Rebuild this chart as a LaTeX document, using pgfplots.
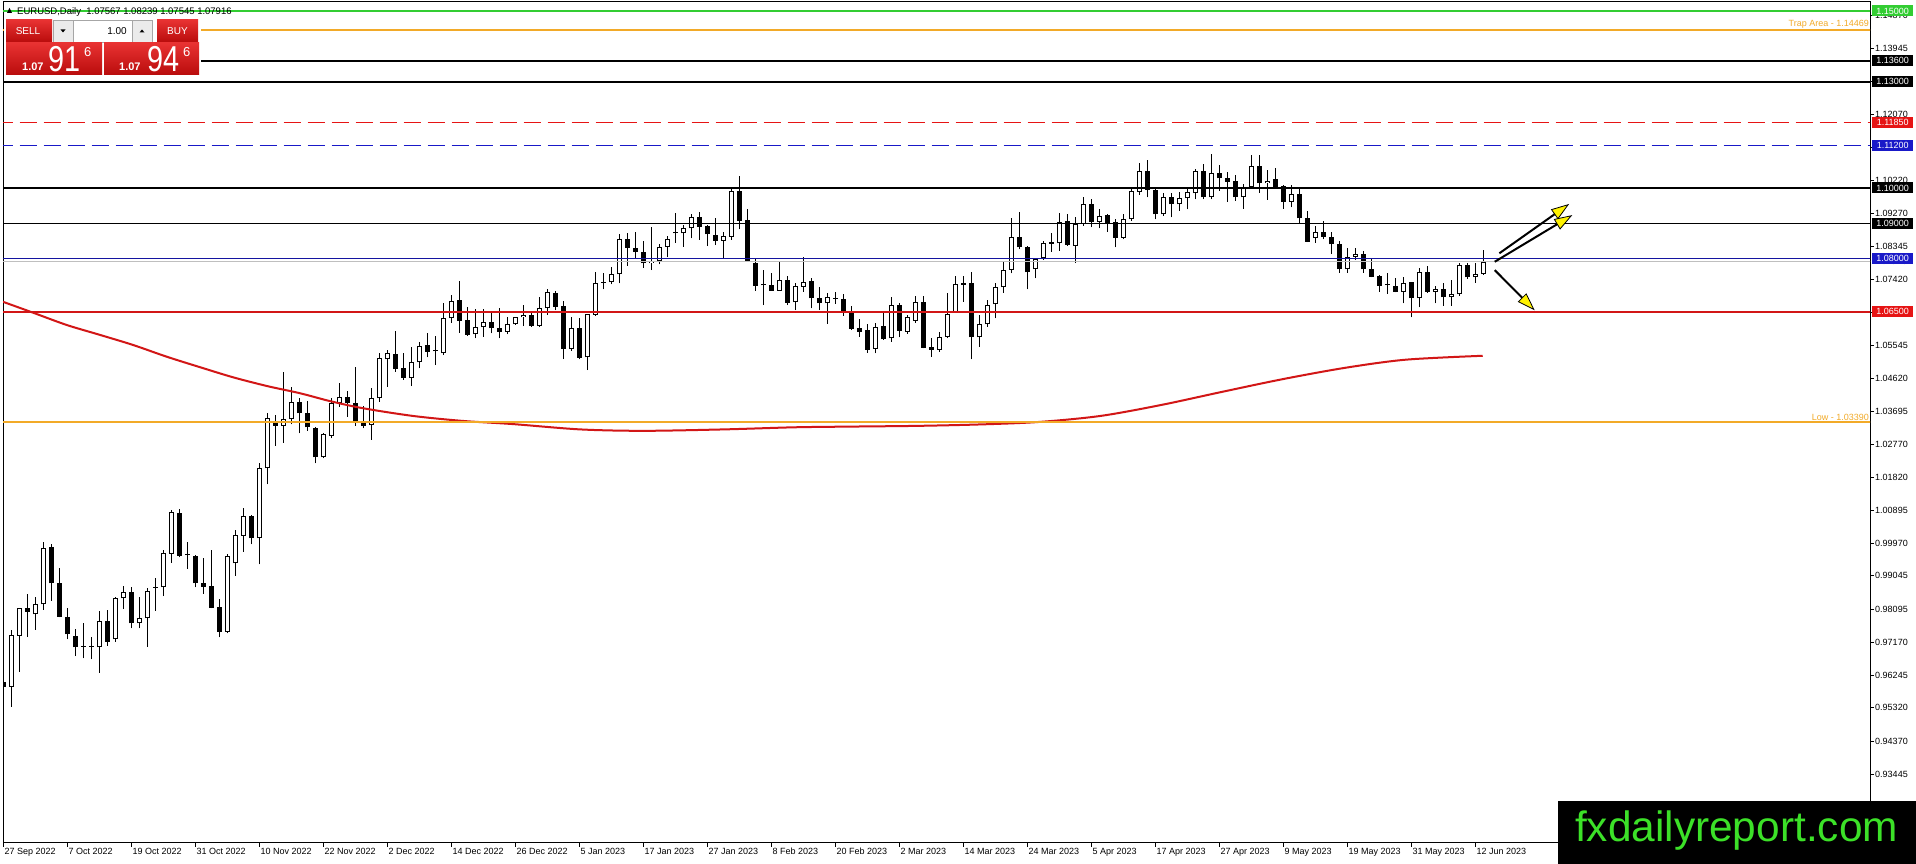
\documentclass[border=0pt]{standalone}
\usepackage{fontspec}
\setmainfont{Liberation Sans}
\usepackage{pgfplots}
\usepackage{pgfplotstable}
\pgfplotsset{compat=1.18}
\usetikzlibrary{arrows.meta}
\definecolor{mtgreen}{RGB}{50,205,50}
\definecolor{mtorange}{RGB}{242,170,40}
\definecolor{mtred}{RGB}{230,20,20}
\definecolor{lvred}{RGB}{210,22,22}
\definecolor{mtblue}{RGB}{25,25,200}
\definecolor{btnredA}{RGB}{232,50,50}
\definecolor{btnredB}{RGB}{185,12,12}
\definecolor{fxgreen}{RGB}{60,225,40}

\pgfplotstableread{
i o h l c
0 0.96054 0.96714 0.95678 0.95913
1 0.95913 0.97514 0.95348 0.97373
2 0.97354 0.98140 0.96337 0.98126
3 0.98126 0.98531 0.97326 0.98032
4 0.97956 0.98437 0.97514 0.98239
5 0.98239 0.99990 0.98079 0.99821
6 0.99849 0.99943 0.98342 0.98832
7 0.98832 0.99256 0.97872 0.97891
8 0.97891 0.98145 0.97250 0.97391
9 0.97354 0.97533 0.96779 0.97024
10 0.97040 0.97721 0.96714 0.97050
11 0.97043 0.97326 0.96685 0.97035
12 0.97024 0.98060 0.96309 0.97768
13 0.97768 0.98079 0.97071 0.97184
14 0.97250 0.98437 0.97184 0.98408
15 0.98408 0.98757 0.98107 0.98578
16 0.98578 0.98719 0.97561 0.97702
17 0.97702 0.98437 0.97561 0.97843
18 0.97843 0.98691 0.97043 0.98616
19 0.98710 0.98973 0.98060 0.98725
20 0.98719 0.99774 0.98474 0.99680
21 0.99661 1.00904 0.99416 1.00838
22 1.00810 1.00923 0.99567 0.99614
23 0.99642 0.99990 0.99237 0.99630
24 0.99614 0.99630 0.98719 0.98832
25 0.98851 0.99538 0.98531 0.98738
26 0.98757 0.99774 0.98126 0.98145
27 0.98154 0.98390 0.97307 0.97467
28 0.97467 0.99661 0.97420 0.99604
29 0.99397 1.00339 0.99049 1.00198
30 1.00179 1.00951 0.99727 1.00734
31 1.00734 1.00763 0.99934 1.00104
32 1.00104 1.02222 0.99369 1.02081
33 1.02081 1.03634 1.01629 1.03512
34 1.03371 1.03587 1.02721 1.03277
35 1.03276 1.04811 1.02805 1.03465
36 1.03465 1.04387 1.03323 1.03945
37 1.03945 1.04077 1.03069 1.03634
38 1.03634 1.03983 1.03144 1.03239
39 1.03220 1.03240 1.02222 1.02391
40 1.02391 1.03088 1.02363 1.03050
41 1.03003 1.04058 1.02928 1.03935
42 1.03935 1.04481 1.03822 1.04105
43 1.04105 1.04274 1.03540 1.03935
44 1.03917 1.04952 1.03286 1.03427
45 1.03370 1.03841 1.03210 1.03286
46 1.03304 1.04340 1.02881 1.04058
47 1.04058 1.05329 1.03964 1.05188
48 1.05160 1.05423 1.04387 1.05329
49 1.05301 1.05960 1.04811 1.04886
50 1.04905 1.05329 1.04576 1.04642
51 1.04642 1.05517 1.04406 1.05075
52 1.05075 1.05659 1.04905 1.05536
53 1.05555 1.05913 1.05216 1.05376
54 1.05385 1.05819 1.04999 1.05400
55 1.05329 1.06741 1.05282 1.06318
56 1.06318 1.06977 1.06195 1.06817
57 1.06836 1.07372 1.05913 1.06252
58 1.06271 1.06628 1.05819 1.05847
59 1.05866 1.06572 1.05753 1.06063
60 1.06063 1.06572 1.05800 1.06224
61 1.06224 1.06478 1.05894 1.06035
62 1.06035 1.06600 1.05753 1.05941
63 1.05941 1.06365 1.05866 1.06158
64 1.06148 1.06365 1.06130 1.06346
65 1.06346 1.06694 1.06101 1.06412
66 1.06412 1.06506 1.06082 1.06101
67 1.06101 1.06911 1.06082 1.06600
68 1.06600 1.07137 1.06412 1.07052
69 1.07024 1.07099 1.06553 1.06647
70 1.06666 1.06817 1.05169 1.05451
71 1.05451 1.06365 1.05404 1.06035
72 1.06035 1.06318 1.05160 1.05207
73 1.05216 1.06450 1.04858 1.06440
74 1.06412 1.07617 1.06393 1.07306
75 1.07320 1.07589 1.07137 1.07335
76 1.07335 1.07758 1.07278 1.07561
77 1.07561 1.08700 1.07306 1.08549
78 1.08549 1.08719 1.07806 1.08314
79 1.08314 1.08747 1.08013 1.08201
80 1.08201 1.08512 1.07750 1.07871
81 1.07871 1.08888 1.07683 1.07937
82 1.07937 1.08418 1.07843 1.08342
83 1.08342 1.08644 1.08041 1.08549
84 1.08720 1.09284 1.08455 1.08735
85 1.08719 1.08955 1.08342 1.08860
86 1.08860 1.09265 1.08578 1.09171
87 1.09171 1.09321 1.08531 1.08907
88 1.08926 1.08955 1.08361 1.08691
89 1.08672 1.09143 1.08389 1.08512
90 1.08512 1.08766 1.08013 1.08644
91 1.08625 1.09990 1.08531 1.09915
92 1.09915 1.10338 1.08832 1.09077
93 1.09096 1.09397 1.07919 1.07947
94 1.07871 1.08013 1.07099 1.07240
95 1.07250 1.07683 1.06694 1.07260
96 1.07259 1.07608 1.07090 1.07099
97 1.07099 1.07937 1.07090 1.07401
98 1.07401 1.07514 1.06694 1.06761
99 1.06770 1.07306 1.06553 1.07231
100 1.07212 1.08041 1.07071 1.07353
101 1.07372 1.07448 1.06600 1.06883
102 1.06883 1.07212 1.06553 1.06742
103 1.06742 1.07024 1.06158 1.06930
104 1.06883 1.07052 1.06723 1.06870
105 1.06855 1.07005 1.06384 1.06506
106 1.06506 1.06666 1.05988 1.06017
107 1.06035 1.06299 1.05800 1.05941
108 1.05989 1.06158 1.05348 1.05424
109 1.05452 1.06196 1.05330 1.06083
110 1.06102 1.06479 1.05706 1.05725
111 1.05753 1.06931 1.05659 1.06695
112 1.06695 1.06742 1.05782 1.05970
113 1.05942 1.06413 1.05876 1.06347
114 1.06252 1.06959 1.06196 1.06789
115 1.06789 1.06959 1.05471 1.05490
116 1.05499 1.05753 1.05236 1.05424
117 1.05424 1.05923 1.05377 1.05800
118 1.05800 1.07024 1.05753 1.06440
119 1.06507 1.07514 1.06500 1.07279
120 1.07307 1.07514 1.06789 1.07270
121 1.07307 1.07618 1.05160 1.05782
122 1.05782 1.06413 1.05518 1.06149
123 1.06149 1.06836 1.06083 1.06695
124 1.06714 1.07326 1.06318 1.07194
125 1.07194 1.07919 1.07043 1.07684
126 1.07684 1.09143 1.07590 1.08606
127 1.08606 1.09332 1.08267 1.08324
128 1.08324 1.08362 1.07138 1.07618
129 1.07703 1.08013 1.07448 1.07994
130 1.08013 1.08512 1.07966 1.08437
131 1.08430 1.08719 1.08201 1.08445
132 1.08437 1.09285 1.08230 1.09049
133 1.09068 1.09266 1.08362 1.08390
134 1.08371 1.09171 1.07891 1.08983
135 1.08983 1.09736 1.08927 1.09539
136 1.09548 1.09680 1.08889 1.09049
137 1.09049 1.09397 1.08861 1.09219
138 1.09237 1.09266 1.08767 1.09020
139 1.09030 1.09125 1.08324 1.08597
140 1.08597 1.09266 1.08550 1.09115
141 1.09115 1.10038 1.09077 1.09915
142 1.09897 1.10716 1.09802 1.10480
143 1.10480 1.10791 1.09736 1.09944
144 1.09944 1.09991 1.09115 1.09256
145 1.09256 1.09849 1.09209 1.09736
146 1.09736 1.09868 1.09171 1.09539
147 1.09539 1.09897 1.09350 1.09708
148 1.09708 1.09962 1.09397 1.09878
149 1.09850 1.10527 1.09680 1.10480
150 1.10480 1.10678 1.09680 1.09736
151 1.09736 1.10961 1.09680 1.10414
152 1.10414 1.10650 1.09925 1.10273
153 1.10273 1.10461 1.09614 1.10179
154 1.10207 1.10367 1.09642 1.09736
155 1.09736 1.10113 1.09407 1.10038
156 1.10038 1.10932 1.10019 1.10622
157 1.10622 1.10932 1.09868 1.10132
158 1.10132 1.10509 1.09661 1.10198
159 1.10245 1.10556 1.09991 1.10019
160 1.10066 1.10085 1.09407 1.09614
161 1.09614 1.10085 1.09454 1.09831
162 1.09831 1.09991 1.09002 1.09143
163 1.09143 1.09360 1.08470 1.08484
164 1.08597 1.08927 1.08456 1.08748
165 1.08748 1.09068 1.08550 1.08625
166 1.08625 1.08748 1.08136 1.08409
167 1.08409 1.08503 1.07608 1.07703
168 1.07703 1.08296 1.07608 1.08042
169 1.08060 1.08315 1.07966 1.08126
170 1.08126 1.08220 1.07608 1.07703
171 1.07712 1.07995 1.07476 1.07495
172 1.07514 1.07543 1.07072 1.07241
173 1.07255 1.07589 1.07006 1.07265
174 1.07232 1.07467 1.07053 1.07072
175 1.07072 1.07495 1.06742 1.07326
176 1.07335 1.07350 1.06347 1.06883
177 1.06883 1.07731 1.06629 1.07618
178 1.07618 1.07797 1.07044 1.07072
179 1.07072 1.07232 1.06742 1.07138
180 1.07138 1.07326 1.06676 1.06912
181 1.06912 1.07401 1.06676 1.06996
182 1.06996 1.07872 1.06959 1.07825
183 1.07825 1.07891 1.07429 1.07476
184 1.07476 1.07891 1.07326 1.07561
185 1.07567 1.08239 1.07545 1.07916
}\ohlc

\begin{document}
\begin{tikzpicture}
\path[use as bounding box, fill=white] (0pt,0pt) rectangle (1916pt,864pt);
\begin{axis}[
  at={(3pt,21pt)}, anchor=south west,
  scale only axis, width=1867pt, height=841pt,
  xmin=-0.0625, xmax=233.3125, ymin=0.91497, ymax=1.15254,
  axis line style={black, line width=1pt},
  clip mode=individual,
  tick align=outside, major tick length=4pt,
  tick style={black, line width=0.8pt},
  xtick pos=left, ytick pos=right, yticklabel pos=right,
  xtick={0,8,...,184},
  xticklabels={27 Sep 2022,7 Oct 2022,19 Oct 2022,31 Oct 2022,10 Nov 2022,22 Nov 2022,2 Dec 2022,14 Dec 2022,26 Dec 2022,5 Jan 2023,17 Jan 2023,27 Jan 2023,8 Feb 2023,20 Feb 2023,2 Mar 2023,14 Mar 2023,24 Mar 2023,5 Apr 2023,17 Apr 2023,27 Apr 2023,9 May 2023,19 May 2023,31 May 2023,12 Jun 2023},
  ytick={1.14870,1.13945,1.13020,1.12070,1.11145,1.10220,1.09270,1.08345,1.07420,1.06495,1.05545,1.04620,1.03695,1.02770,1.01820,1.00895,0.99970,0.99045,0.98095,0.97170,0.96245,0.95320,0.94370,0.93445},
  yticklabels={1.14870,1.13945,{},1.12070,{},1.10220,1.09270,1.08345,1.07420,{},1.05545,1.04620,1.03695,1.02770,1.01820,1.00895,0.99970,0.99045,0.98095,0.97170,0.96245,0.95320,0.94370,0.93445},
  xticklabel style={anchor=north west, inner sep=1pt, font=\fontsize{9}{10}\selectfont},
  yticklabel style={anchor=west, inner sep=1pt, font=\fontsize{9}{10}\selectfont},
]
% wicks
\addplot[black, line width=1pt, -, quiver={u=0, v=\thisrow{h}-\thisrow{l}}]
  table[x=i, y=l] {\ohlc};
% bodies (outline / bearish fill)
\addplot[black, line width=5pt, -, quiver={u=0, v={max(abs(\thisrow{c}-\thisrow{o}),0.0003)}}]
  table[x=i, y expr={min(\thisrow{o},\thisrow{c})}] {\ohlc};
% bullish inner fill
\addplot[white, line width=3pt, -, restrict expr to domain={\thisrow{c}-\thisrow{o}}{0.0006:1},
  quiver={u=0, v=\thisrow{c}-\thisrow{o}-0.00056}]
  table[x=i, y expr=\thisrow{o}+0.00028] {\ohlc};
% moving average
\addplot[lvred, line width=2pt, smooth, tension=0.5] coordinates {
(-0.1,1.06788) (3.7,1.06477) (7.9,1.06130) (12.1,1.05847) (16.2,1.05565) (20.4,1.05234)
(24.6,1.04935) (28.7,1.04652) (32.9,1.04407) (37.1,1.04200) (40.8,1.03980) (44.9,1.03780)
(51.2,1.03560) (57.4,1.03420) (63.7,1.03330) (72.1,1.03180) (80,1.03140) (90,1.03180)
(98.9,1.03240) (106,1.03260) (114.2,1.03280) (122,1.03320) (129.4,1.03390) (137.1,1.03560)
(144.7,1.03870) (152.3,1.04240) (159.9,1.04600) (167.7,1.04920) (175.3,1.05150) (184.9,1.05260)};
% horizontal levels
\addplot[mtgreen, line width=2pt] coordinates {(-1,1.15) (240,1.15)};
\addplot[mtorange, line width=2pt] coordinates {(-1,1.14469) (240,1.14469)};
\addplot[black, line width=2pt] coordinates {(-1,1.136) (240,1.136)};
\addplot[black, line width=2pt] coordinates {(-1,1.13) (240,1.13)};
\addplot[mtred, line width=1pt, dash pattern=on 17pt off 7pt] coordinates {(-1,1.1185) (240,1.1185)};
\addplot[mtblue, line width=1pt, dash pattern=on 17pt off 7pt] coordinates {(-1,1.112) (240,1.112)};
\addplot[black, line width=2.5pt] coordinates {(-1,1.10) (240,1.10)};
\addplot[black, line width=1pt] coordinates {(-1,1.09) (240,1.09)};
\addplot[black!25, line width=1pt] coordinates {(-1,1.07916) (240,1.07916)};
\addplot[mtblue!80!black, line width=1pt] coordinates {(-1,1.08) (240,1.08)};
\addplot[lvred, line width=2.5pt] coordinates {(-1,1.065) (240,1.065)};
\addplot[mtorange, line width=2pt] coordinates {(-1,1.0339) (240,1.0339)};
% arrows
\addplot[black, line width=2pt, -{Triangle[length=18pt,width=12pt,fill=yellow,line width=0.8pt]}]
  coordinates {(186.98,1.08155) (195.7,1.09548)};
\addplot[black, line width=2pt, -{Triangle[length=18pt,width=12pt,fill=yellow,line width=0.8pt]}]
  coordinates {(186.4,1.07916) (196.1,1.09234)};
\addplot[black, line width=2pt, -{Triangle[length=18pt,width=12pt,fill=yellow,line width=0.8pt]}]
  coordinates {(186.4,1.0768) (191.4,1.06545)};
% texts on lines
\node[anchor=south east, inner sep=1pt, text=mtorange, font=\fontsize{9}{10}\selectfont] at (axis cs:233.3125,1.14469) {Trap Area - 1.14469};
\node[anchor=south east, inner sep=1pt, text=mtorange, font=\fontsize{9}{10}\selectfont] at (axis cs:233.3125,1.0339) {Low - 1.03390};
% label anchors
\coordinate (Lg) at (axis cs:233.3125,1.15);
\coordinate (La) at (axis cs:233.3125,1.136);
\coordinate (Lb) at (axis cs:233.3125,1.13);
\coordinate (Lc) at (axis cs:233.3125,1.1185);
\coordinate (Ld) at (axis cs:233.3125,1.112);
\coordinate (Le) at (axis cs:233.3125,1.10);
\coordinate (Lf) at (axis cs:233.3125,1.09);
\coordinate (Lbid) at (axis cs:233.3125,1.07916);
\coordinate (Lh) at (axis cs:233.3125,1.08);
\coordinate (Li) at (axis cs:233.3125,1.065);
\end{axis}
% right-axis price boxes
\tikzset{lbl/.style={anchor=west, inner sep=0pt, minimum width=41pt, minimum height=11pt, text=white, font=\fontsize{9}{9}\selectfont}}
\node[anchor=west, inner sep=0pt, font=\fontsize{9}{9}\selectfont] at ([xshift=4pt]Lbid) {1.07916};
\node[lbl, fill=mtgreen] at ([xshift=2pt]Lg) {1.15000};
\node[lbl, fill=black] at ([xshift=2pt]La) {1.13600};
\node[lbl, fill=black] at ([xshift=2pt]Lb) {1.13000};
\node[lbl, fill=mtred] at ([xshift=2pt]Lc) {1.11850};
\node[lbl, fill=mtblue] at ([xshift=2pt]Ld) {1.11200};
\node[lbl, fill=black] at ([xshift=2pt]Le) {1.10000};
\node[lbl, fill=black] at ([xshift=2pt]Lf) {1.09000};
\node[lbl, fill=mtblue] at ([xshift=2pt]Lh) {1.08000};
\node[lbl, fill=mtred] at ([xshift=2pt]Li) {1.06500};
% top-left title
\fill[black] (7pt,851pt) -- (12pt,851pt) -- (9.5pt,856pt) -- cycle;
\node[anchor=base west, inner sep=0pt, font=\fontsize{9.5}{10}\selectfont] at (17pt,849.5pt) {EURUSD,Daily\ \ 1.07567 1.08239 1.07545 1.07916};
% trade panel
\fill[white] (4pt,785pt) rectangle (201pt,847pt);
\shade[top color=btnredA, bottom color=btnredB] (6pt,822pt) rectangle (52pt,844pt);
\shade[top color=btnredA, bottom color=btnredB] (157pt,822pt) rectangle (198pt,844pt);
\draw[black!35, fill=black!8] (53pt,822pt) rectangle (73pt,844pt);
\draw[black!35, fill=white] (73pt,822pt) rectangle (132pt,844pt);
\draw[black!35, fill=black!8] (132pt,822pt) rectangle (152pt,844pt);
\fill[black] (60.5pt,834.5pt) -- (65.5pt,834.5pt) -- (63pt,831.5pt) -- cycle;
\fill[black] (139.5pt,831.5pt) -- (144.5pt,831.5pt) -- (142pt,834.5pt) -- cycle;
\node[text=white, inner sep=0pt, font=\fontsize{10}{10}\selectfont] at (28pt,833pt) {SELL};
\node[text=white, inner sep=0pt, font=\fontsize{10}{10}\selectfont] at (177.5pt,833pt) {BUY};
\node[anchor=east, inner sep=0pt, font=\fontsize{10}{10}\selectfont] at (127pt,833pt) {1.00};
\shade[top color=btnredA, bottom color=btnredB] (6pt,789pt) rectangle (102pt,821pt);
\shade[top color=btnredA, bottom color=btnredB] (104pt,789pt) rectangle (199pt,821pt);
\node[anchor=base west, text=white, inner sep=0pt, font=\bfseries\fontsize{11}{11}\selectfont] at (22pt,793pt) {1.07};
\node[anchor=base west, text=white, inner sep=0pt, font=\fontsize{36}{36}\selectfont] at (48pt,792pt) {\scalebox{0.8}[1]{91}};
\node[anchor=base west, text=white, inner sep=0pt, font=\fontsize{13}{13}\selectfont] at (84pt,807.5pt) {6};
\node[anchor=base west, text=white, inner sep=0pt, font=\bfseries\fontsize{11}{11}\selectfont] at (119pt,793pt) {1.07};
\node[anchor=base west, text=white, inner sep=0pt, font=\fontsize{36}{36}\selectfont] at (147pt,792pt) {\scalebox{0.8}[1]{94}};
\node[anchor=base west, text=white, inner sep=0pt, font=\fontsize{13}{13}\selectfont] at (183pt,807.5pt) {6};
% watermark box
\fill[black] (1558pt,0pt) rectangle (1916pt,63pt);
\node[anchor=base, inner sep=0pt, text=fxgreen, font=\fontsize{42.4}{44}\selectfont] at (1736.5pt,22pt) {fxdailyreport.com};
\end{tikzpicture}
\end{document}
